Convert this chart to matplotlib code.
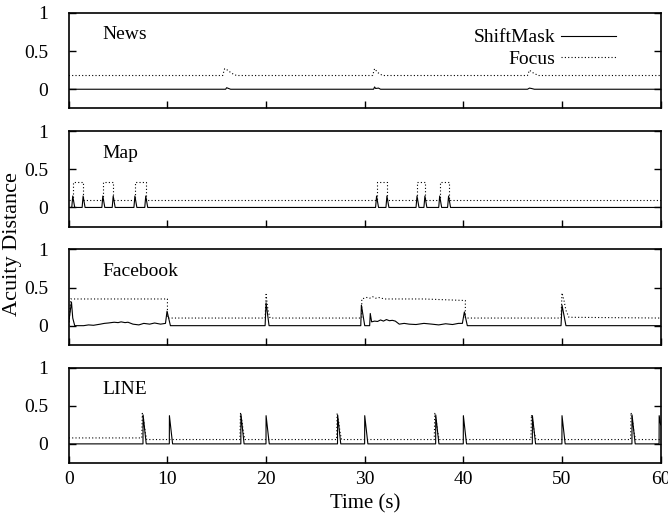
import matplotlib
matplotlib.use("Agg")
import matplotlib.pyplot as plt

plt.rcParams["font.family"] = ["Liberation Serif", "DejaVu Serif"]
plt.rcParams["font.size"] = 14

# News
news_focus_t = [0, 15.6, 15.8, 16.1, 16.5, 17.0, 30.8, 31.0, 31.3, 31.8, 46.5, 46.7, 47.0, 47.6, 60]
news_focus_v = [0.18, 0.18, 0.27, 0.25, 0.21, 0.18, 0.18, 0.27, 0.22, 0.18, 0.18, 0.25, 0.22, 0.18, 0.18]
news_shift_t = [0, 15.9, 16.0, 16.2, 16.4, 30.9, 31.0, 31.1, 31.4, 31.6, 46.5, 46.7, 46.9, 47.2, 60]
news_shift_v = [0, 0, 0.02, 0.01, 0, 0, 0.03, 0.01, 0.015, 0, 0, 0.015, 0.01, 0, 0]

# Map (focus is a step series)
map_focus_t = [0, 0.4, 1.45, 3.45, 4.5, 6.7, 7.8, 31.2, 32.25, 35.3, 36.1, 37.6, 38.5, 60]
map_focus_v = [0.1, 0.34, 0.1, 0.34, 0.1, 0.34, 0.1, 0.34, 0.1, 0.34, 0.1, 0.34, 0.1, 0.1]
map_shift_t = [0, 0.3, 0.4, 0.6, 1.35, 1.45, 1.65, 3.35, 3.45, 3.65, 4.4, 4.5, 4.7,
               6.6, 6.7, 6.9, 7.7, 7.8, 8.0, 31.1, 31.2, 31.4, 32.15, 32.25, 32.45,
               35.2, 35.3, 35.5, 36.0, 36.1, 36.3, 37.5, 37.6, 37.8, 38.4, 38.5, 38.7, 60]
map_shift_v = [0, 0, 0.15, 0, 0, 0.15, 0, 0, 0.15, 0, 0, 0.15, 0,
               0, 0.15, 0, 0, 0.15, 0, 0, 0.15, 0, 0, 0.15, 0,
               0, 0.15, 0, 0, 0.15, 0, 0, 0.15, 0, 0, 0.15, 0, 0]

# Facebook
fb_focus_t = [0, 0.2, 10.0, 10.0, 19.9, 20.0, 20.1, 20.2, 20.4, 29.7, 29.7, 30.2, 30.5, 30.8,
              31.1, 31.4, 32.0, 36.0, 40.2, 40.2, 49.9, 50.0, 50.2, 50.4, 50.7, 60]
fb_focus_v = [0.0, 0.35, 0.35, 0.1, 0.1, 0.41, 0.3, 0.2, 0.1, 0.1, 0.35, 0.37, 0.36, 0.38,
              0.36, 0.37, 0.35, 0.35, 0.33, 0.1, 0.1, 0.43, 0.33, 0.2, 0.11, 0.1]
fb_shift_t = [0, 0.27, 0.4, 0.6, 1.5, 2.0, 2.5, 3.2, 3.6, 4.0, 4.6, 5.0, 5.3, 5.7, 6.0, 6.5,
              7.1, 7.6, 8.2, 8.7, 9.3, 9.8, 9.96, 10.3, 19.9, 20.0, 20.3, 29.6, 29.66, 30.0,
              30.5, 30.56, 30.7, 31.0, 31.3, 31.6, 31.9, 32.2, 32.5, 32.8, 33.1, 33.5, 34.0,
              34.5, 35.2, 36.0, 36.8, 37.5, 38.2, 38.9, 39.5, 39.9, 40.1, 40.4, 49.9, 50.0,
              50.4, 60]
fb_shift_v = [0.05, 0.31, 0.1, 0.0, 0.0, 0.01, 0.005, 0.02, 0.03, 0.035, 0.045, 0.04, 0.05,
              0.04, 0.045, 0.02, 0.01, 0.03, 0.02, 0.035, 0.02, 0.03, 0.19, 0.0, 0.0, 0.3,
              0.0, 0.0, 0.27, 0.0, 0.0, 0.16, 0.05, 0.06, 0.055, 0.075, 0.06, 0.08, 0.065,
              0.07, 0.06, 0.02, 0.03, 0.02, 0.015, 0.03, 0.02, 0.01, 0.025, 0.015, 0.03,
              0.03, 0.18, 0.0, 0.0, 0.27, 0.0, 0.0]

# LINE
line_focus_t = [0, 7.4, 7.45, 7.6, 7.75, 7.9, 17.35, 17.4, 17.55, 17.7, 17.85, 27.15, 27.2,
                27.35, 27.5, 27.65, 37.05, 37.1, 37.25, 37.4, 37.55, 46.85, 46.9, 47.05,
                47.2, 47.35, 56.95, 57.0, 57.15, 57.3, 57.45, 60]
line_focus_v = [0.078, 0.078, 0.4, 0.3, 0.15, 0.057, 0.057, 0.4, 0.3, 0.15, 0.057, 0.057, 0.4,
                0.3, 0.15, 0.057, 0.057, 0.4, 0.3, 0.15, 0.057, 0.057, 0.38, 0.28, 0.14,
                0.057, 0.057, 0.41, 0.3, 0.15, 0.057, 0.057]
line_shift_t = [0, 7.52, 7.53, 7.85, 10.19, 10.2, 10.52, 17.44, 17.45, 17.77, 19.99, 20.0,
                20.32, 27.24, 27.25, 27.57, 29.99, 30.0, 30.32, 37.19, 37.2, 37.52, 39.99,
                40.0, 40.32, 46.99, 47.0, 47.32, 49.99, 50.0, 50.32, 57.09, 57.1, 57.42,
                59.84, 59.85, 60]
line_shift_v = [0, 0, 0.38, 0, 0, 0.37, 0, 0, 0.39, 0, 0, 0.37, 0, 0, 0.38, 0, 0, 0.37, 0,
                0, 0.38, 0, 0, 0.37, 0, 0, 0.37, 0, 0, 0.37, 0, 0, 0.38, 0, 0, 0.37, 0.25]

panels = [
    ("News", news_shift_t, news_shift_v, news_focus_t, news_focus_v, "default"),
    ("Map", map_shift_t, map_shift_v, map_focus_t, map_focus_v, "steps-post"),
    ("Facebook", fb_shift_t, fb_shift_v, fb_focus_t, fb_focus_v, "default"),
    ("LINE", line_shift_t, line_shift_v, line_focus_t, line_focus_v, "default"),
]

fig, axes = plt.subplots(4, 1, figsize=(6.68, 5.19), dpi=100, sharex=True)
fig.subplots_adjust(left=0.103, right=0.989, top=0.975, bottom=0.108, hspace=0.24)

for i, (ax, (name, st, sv, ft, fv, fstyle)) in enumerate(zip(axes, panels)):
    ax.plot(st, sv, color="black", lw=0.8, label="ShiftMask")
    ax.plot(ft, fv, color="black", lw=0.8, linestyle=(0, (1, 2)),
            drawstyle=fstyle, label="Focus")
    ax.set_xlim(0, 60)
    ax.set_ylim(-0.25, 1)
    ax.set_yticks([0, 0.5, 1])
    ax.set_yticklabels(["0", "0.5", "1"])
    ax.set_xticks(range(0, 61, 10))
    ax.tick_params(direction="in", length=5, width=1.0, right=True, top=False)
    ax.tick_params(axis="y", pad=15)
    ax.tick_params(axis="x", pad=6)
    for sp in ax.spines.values():
        sp.set_linewidth(1.2)
    ax.text(0.057, 0.77, name, transform=ax.transAxes, ha="left", va="center")
    if i == 0:
        ax.legend(loc="upper right", bbox_to_anchor=(0.924, 0.835), frameon=False,
                  markerfirst=False, handlelength=2.8, borderpad=0, borderaxespad=0,
                  labelspacing=0.2, handletextpad=0.3)

axes[-1].set_xlabel("Time (s)", fontsize=15, labelpad=4)
fig.text(0.019, 0.53, "Acuity Distance", rotation=90, ha="center", va="center", fontsize=16)

fig.savefig("out.png", dpi=100)
